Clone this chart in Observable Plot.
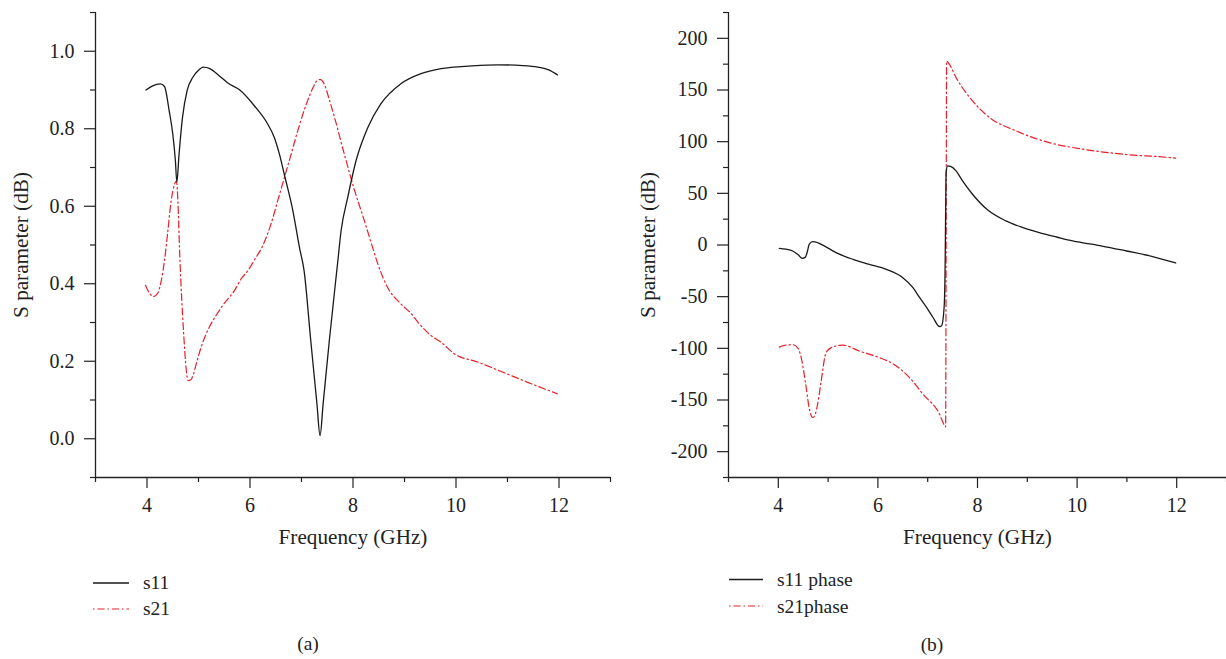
<!DOCTYPE html>
<html><head><meta charset="utf-8">
<script src="https://cdn.jsdelivr.net/npm/d3@7"></script>
<script src="https://cdn.jsdelivr.net/npm/@observablehq/plot@0.6"></script>
<style>
body{margin:0;background:#fff;}
#wrap{position:relative;width:1226px;height:659px;overflow:hidden;background:#fff;}
#a{position:absolute;left:0;top:0}
#b{position:absolute;left:620px;top:0}
#leg{position:absolute;left:0;top:560px}
#wrap svg, #wrap svg text, #wrap svg g {font-family:"Liberation Serif","Times New Roman",Tinos,Times,"DejaVu Serif",serif !important;}
</style></head><body>
<div id="wrap"><div id="a"></div><div id="b"></div>
<svg id="leg" width="1226" height="99" font-size="19.5" fill="#222">
  <line x1="93" x2="129" y1="23" y2="23" stroke="#1a1a1a" stroke-width="1.3"/>
  <text x="143" y="28.5">s11</text>
  <line x1="93" x2="129" y1="49" y2="49" stroke="#e8202a" stroke-width="1.2" stroke-dasharray="1.5,3,7,3"/>
  <text x="143" y="54.5">s21</text>
  <text x="308" y="89.5" text-anchor="middle">(a)</text>
  <line x1="729" x2="763" y1="19.5" y2="19.5" stroke="#1a1a1a" stroke-width="1.3"/>
  <text x="777" y="26">s11 phase</text>
  <line x1="729" x2="763" y1="46" y2="46" stroke="#e8202a" stroke-width="1.2" stroke-dasharray="1.5,3,7,3"/>
  <text x="777" y="52.5">s21phase</text>
  <text x="932" y="90.5" text-anchor="middle">(b)</text>
</svg>
</div>
<script>
// ---- Panel (a): magnitude ----
const freqA_s11 = [3.98,4.1,4.26,4.34,4.43,4.5,4.55,4.58,4.62,4.69,4.78,4.89,5.0,5.09,5.22,5.4,5.57,5.79,6.08,6.34,6.47,6.57,6.67,6.83,6.96,7.05,7.18,7.30,7.36,7.42,7.54,7.70,7.77,7.90,8.06,8.29,8.54,8.93,9.32,9.71,10.3,10.81,11.3,11.59,11.8,11.97];
const s11 = [0.90,0.91,0.916,0.909,0.847,0.787,0.72,0.662,0.73,0.83,0.899,0.933,0.951,0.959,0.955,0.937,0.918,0.901,0.86,0.813,0.778,0.735,0.68,0.59,0.494,0.434,0.253,0.09,0.008,0.09,0.253,0.452,0.538,0.624,0.718,0.804,0.864,0.916,0.942,0.955,0.962,0.965,0.963,0.959,0.952,0.939];
const freqA_s21 = [3.97,4.05,4.13,4.21,4.28,4.34,4.40,4.47,4.53,4.57,4.61,4.63,4.66,4.72,4.76,4.80,4.85,4.89,4.97,5.05,5.21,5.35,5.47,5.7,5.83,5.96,6.08,6.25,6.41,6.54,6.67,6.80,6.93,7.02,7.12,7.22,7.31,7.37,7.44,7.54,7.64,7.83,8.03,8.22,8.38,8.48,8.67,8.93,9.13,9.26,9.51,9.71,9.97,10.42,11.07,11.5,11.97];
const s21 = [0.396,0.375,0.367,0.376,0.41,0.46,0.53,0.615,0.655,0.665,0.58,0.495,0.40,0.254,0.18,0.15,0.152,0.162,0.20,0.236,0.288,0.32,0.344,0.383,0.413,0.434,0.46,0.499,0.555,0.615,0.675,0.735,0.796,0.835,0.873,0.905,0.925,0.927,0.916,0.875,0.830,0.735,0.641,0.563,0.494,0.452,0.391,0.348,0.323,0.301,0.267,0.249,0.219,0.198,0.163,0.14,0.116];

// ---- Panel (b): phase ----
const freqB_s11 = [4.02,4.15,4.29,4.4,4.48,4.54,4.58,4.62,4.69,4.76,4.83,5.0,5.16,5.5,5.83,6.17,6.50,6.7,6.84,7.0,7.11,7.24,7.28,7.33,7.35,7.36,7.37,7.40,7.46,7.57,7.7,7.9,8.2,8.57,8.9,9.24,9.6,9.91,10.5,10.99,11.5,11.98];
const s11phase = [-3.2,-4,-5.8,-9.5,-12.9,-12,-7,0.6,3.2,2.8,1.3,-3,-7.4,-13.9,-18.7,-23.6,-31.6,-41,-51,-62,-70.4,-79,-78,-60,-20,30,70,76.5,76,71.7,62,49.1,34,23.3,17,11.9,7.5,3.9,-1,-5.8,-11,-17.4];
const freqB_s21 = [4.02,4.15,4.3,4.39,4.46,4.51,4.56,4.62,4.69,4.74,4.79,4.86,4.96,5.09,5.30,5.63,6.03,6.37,6.64,6.91,7.24,7.33,7.36,7.37,7.38,7.42,7.57,7.9,8.24,8.77,9.44,10.12,10.92,11.86,11.98];
const s21phase = [-98.8,-96.9,-96.5,-99.5,-109,-122,-138,-157.6,-167,-164,-154,-132,-104,-98.8,-96.9,-102.7,-109,-117,-128.6,-144.7,-164,-174,-176,0,178,176,162,139.5,123.4,110.5,99.1,92.7,87.9,84.6,84];

// ---- Ticks ----
const xMajor = [4,6,8,10,12];
const xMinor = [3,5,7,9,11,13];
const yMajorA = [0,0.2,0.4,0.6,0.8,1.0];
const yMinorA = [-0.1,0.1,0.3,0.5,0.7,0.9,1.1];
const yMajorB = [-200,-150,-100,-50,0,50,100,150,200];
const yMinorB = [-225,-175,-125,-75,-25,25,75,125,175,225];

const xLabel = "Frequency (GHz)";
const yLabel = "S parameter (dB)";
const RED = "#e8202a", BLACK = "#1a1a1a";
const FONT = "'Liberation Serif','Times New Roman',Tinos,Times,'DejaVu Serif',serif";

const zip = (xs, ys) => xs.map((x, i) => ({x, y: ys[i]}));

function panel({s11d, s21d, yDomain, yMajor, yMinor, yFmt, width, marginLeft, marginRight, yDx}) {
  return Plot.plot({
    width, height: 560, marginLeft, marginRight, marginTop: 12, marginBottom: 83,
    style: {fontFamily: FONT, fontSize: "20px", color: "#222", background: "white", overflow: "visible"},
    x: {domain: [3, 13]},
    y: {domain: yDomain},
    marks: [
      Plot.ruleX([3], {stroke: "#222", strokeWidth: 1.3}),
      Plot.ruleY([yDomain[0]], {stroke: "#222", strokeWidth: 1.3}),
      Plot.axisX({ticks: xMajor, tickSize: 11, tickPadding: 9, label: null, fontSize: 20, strokeWidth: 1.2}),
      Plot.axisX({ticks: xMinor, tickSize: 5, tickFormat: () => "", label: null, strokeWidth: 1.2}),
      Plot.axisY({ticks: yMajor, tickSize: 11, tickPadding: 10, tickFormat: yFmt, label: null, fontSize: 20, strokeWidth: 1.2}),
      Plot.axisY({ticks: yMinor, tickSize: 5, tickFormat: () => "", label: null, strokeWidth: 1.2}),
      Plot.line(s21d, {x: "x", y: "y", stroke: RED, strokeWidth: 1.2, strokeDasharray: "7,3,1.5,3", curve: "monotone-x"}),
      Plot.line(s11d, {x: "x", y: "y", stroke: BLACK, strokeWidth: 1.3, curve: "monotone-x"}),
      Plot.text([xLabel], {text: d => d, frameAnchor: "bottom", dy: 60, textAnchor: "middle", lineAnchor: "middle", fontSize: 21.2, fill: "#222"}),
      Plot.text([yLabel], {text: d => d, frameAnchor: "left", dx: yDx, rotate: -90, textAnchor: "middle", lineAnchor: "middle", fontSize: 21.2, fill: "#222"})
    ]
  });
}

document.getElementById("a").append(panel({
  s11d: zip(freqA_s11, s11), s21d: zip(freqA_s21, s21),
  yDomain: [-0.1, 1.1], yMajor: yMajorA, yMinor: yMinorA, yFmt: d3.format(".1f"),
  width: 620, marginLeft: 95, marginRight: 10, yDx: -74
}));
document.getElementById("b").append(panel({
  s11d: zip(freqB_s11, s11phase), s21d: zip(freqB_s21, s21phase),
  yDomain: [-225, 225], yMajor: yMajorB, yMinor: yMinorB, yFmt: d => String(d),
  width: 606, marginLeft: 108, marginRight: 0, yDx: -80
}));
</script>
</body></html>
